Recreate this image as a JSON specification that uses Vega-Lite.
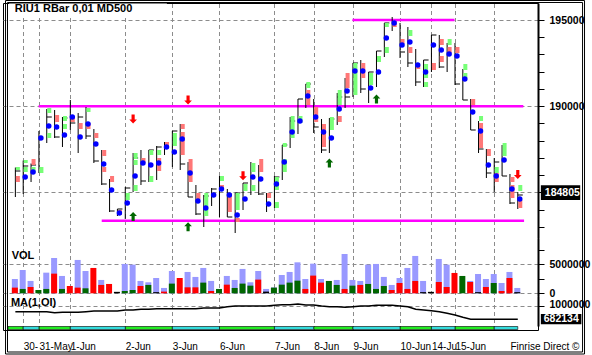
{
"$schema": "https://vega.github.io/schema/vega-lite/v6.json",
"width": 535,
"height": 327,
"autosize": {"type": "none"},
"padding": {"left": 3, "top": 3, "right": 54, "bottom": 25},
"background": "white",
"config": {"view": {"stroke": "black", "strokeWidth": 1}, "font": "Liberation Sans"},
"datasets": {
"bars": [
{"i":0,"h":186445,"l":184734,"t":186242,"d":null},
{"i":1,"h":186851,"l":184908,"t":186532,"d":185894},
{"i":2,"h":186677,"l":185604,"t":186590,"d":186184},
{"i":3,"h":188562,"l":186126,"t":null,"d":188156},
{"i":4,"h":189838,"l":187866,"t":189374,"d":188852},
{"i":5,"h":189780,"l":188156,"t":188214,"d":188794},
{"i":6,"h":189374,"l":187634,"t":189316,"d":188330},
{"i":7,"h":190360,"l":188620,"t":189026,"d":189374},
{"i":8,"h":189606,"l":187286,"t":189374,"d":188214},
{"i":9,"h":189954,"l":188098,"t":188272,"d":188968},
{"i":10,"h":188678,"l":186706,"t":186822,"d":187808},
{"i":11,"h":187460,"l":185430,"t":185488,"d":186648},
{"i":12,"h":185778,"l":183864,"t":183922,"d":185140},
{"i":13,"h":184038,"l":183632,"t":184038,"d":183806},
{"i":14,"h":185314,"l":183458,"t":185256,"d":184386},
{"i":15,"h":187286,"l":185024,"t":186996,"d":185952},
{"i":16,"h":187460,"l":185430,"t":185662,"d":186706},
{"i":17,"h":187460,"l":185604,"t":187460,"d":186590},
{"i":18,"h":187692,"l":185720,"t":187634,"d":186706},
{"i":19,"h":187924,"l":187170,"t":null,"d":187634},
{"i":20,"h":188562,"l":186474,"t":188562,"d":187344},
{"i":21,"h":188968,"l":186300,"t":186648,"d":188098},
{"i":22,"h":186764,"l":184734,"t":184734,"d":186126},
{"i":23,"h":185430,"l":183690,"t":183748,"d":184502},
{"i":24,"h":184850,"l":182994,"t":184792,"d":184096},
{"i":25,"h":185256,"l":184212,"t":185198,"d":184850},
{"i":26,"h":185952,"l":183574,"t":null,"d":185198},
{"i":27,"h":185198,"l":183574,"t":183574,"d":184850},
{"i":28,"h":184966,"l":182646,"t":184966,"d":183690},
{"i":29,"h":185546,"l":183980,"t":185546,"d":184618},
{"i":30,"h":186764,"l":184850,"t":null,"d":185894},
{"i":31,"h":186590,"l":184850,"t":184908,"d":185778},
{"i":32,"h":184966,"l":183864,"t":null,"d":184328},
{"i":33,"h":185952,"l":184096,"t":185894,"d":185488},
{"i":34,"h":187750,"l":185720,"t":187750,"d":186764},
{"i":35,"h":189374,"l":187576,"t":189142,"d":188504},
{"i":36,"h":190418,"l":188388,"t":190418,"d":189142},
{"i":37,"h":191288,"l":189896,"t":191288,"d":190592},
{"i":38,"h":190418,"l":188446,"t":188794,"d":189374},
{"i":39,"h":189258,"l":187286,"t":187460,"d":188504},
{"i":40,"h":189316,"l":187286,"t":189258,"d":188156},
{"i":41,"h":190766,"l":188910,"t":190534,"d":189838},
{"i":42,"h":191636,"l":189896,"t":190534,"d":190882},
{"i":43,"h":192506,"l":190534,"t":192506,"d":192042},
{"i":44,"h":192680,"l":190766,"t":190998,"d":192042},
{"i":45,"h":191984,"l":190186,"t":191984,"d":191056},
{"i":46,"h":193202,"l":191114,"t":193202,"d":191984},
{"i":47,"h":194826,"l":192854,"t":194826,"d":193956},
{"i":48,"h":195174,"l":194362,"t":null,"d":194826},
{"i":49,"h":194826,"l":192796,"t":193144,"d":193550},
{"i":50,"h":194594,"l":192274,"t":192506,"d":193724},
{"i":51,"h":193318,"l":191172,"t":191404,"d":192390},
{"i":52,"h":192680,"l":191114,"t":192680,"d":191984},
{"i":53,"h":194130,"l":191984,"t":194130,"d":193550},
{"i":54,"h":194130,"l":192216,"t":192274,"d":193260},
{"i":55,"h":193666,"l":191984,"t":null,"d":193028},
{"i":56,"h":193666,"l":191230,"t":191288,"d":192912},
{"i":57,"h":192158,"l":190360,"t":190360,"d":191578},
{"i":58,"h":190418,"l":188620,"t":188620,"d":189664},
{"i":59,"h":189142,"l":187286,"t":187518,"d":188562},
{"i":60,"h":187518,"l":185836,"t":186126,"d":186590},
{"i":61,"h":186996,"l":185024,"t":186764,"d":185952},
{"i":62,"h":187750,"l":185952,"t":185952,"d":186880},
{"i":63,"h":186068,"l":184328,"t":184386,"d":185198},
{"i":64,"h":185024,"l":184038,"t":184850,"d":184618}
],
"rects": [
{"i":0,"lo":185604,"hi":185952,"c":"s"},{"i":0,"lo":186300,"hi":186474,"c":"g"},
{"i":1,"lo":186184,"hi":186474,"c":"g"},{"i":1,"lo":186706,"hi":186880,"c":"g"},
{"i":2,"lo":186590,"hi":186938,"c":"s"},{"i":2,"lo":186184,"hi":186474,"c":"g"},
{"i":3,"lo":186126,"hi":186474,"c":"g"},
{"i":4,"lo":189606,"hi":189896,"c":"g"},{"i":4,"lo":188156,"hi":188446,"c":"g"},
{"i":5,"lo":189084,"hi":189490,"c":"s"},
{"i":6,"lo":189142,"hi":189432,"c":"g"},{"i":6,"lo":188678,"hi":188968,"c":"g"},
{"i":7,"lo":189084,"hi":189432,"c":"s"},
{"i":8,"lo":188678,"hi":189026,"c":"s"},
{"i":9,"lo":189664,"hi":189896,"c":"g"},{"i":9,"lo":188678,"hi":189026,"c":"s"},
{"i":10,"lo":188156,"hi":188446,"c":"s"},
{"i":11,"lo":187112,"hi":187460,"c":"s"},{"i":11,"lo":186184,"hi":186474,"c":"s"},
{"i":12,"lo":185604,"hi":185952,"c":"s"},
{"i":13,"lo":183690,"hi":183980,"c":"s"},
{"i":14,"lo":184560,"hi":184966,"c":"g"},
{"i":15,"lo":186938,"hi":187286,"c":"g"},{"i":15,"lo":186590,"hi":186880,"c":"g"},{"i":15,"lo":185082,"hi":185430,"c":"g"},
{"i":16,"lo":186706,"hi":186996,"c":"s"},
{"i":17,"lo":187170,"hi":187460,"c":"g"},{"i":17,"lo":185604,"hi":185952,"c":"g"},
{"i":18,"lo":187170,"hi":187460,"c":"g"},{"i":18,"lo":186242,"hi":186996,"c":"s"},
{"i":19,"lo":187692,"hi":187924,"c":"s"},
{"i":20,"lo":187692,"hi":188446,"c":"g"},
{"i":21,"lo":188678,"hi":188968,"c":"s"},{"i":21,"lo":187170,"hi":188504,"c":"s"},
{"i":22,"lo":185604,"hi":186938,"c":"s"},
{"i":23,"lo":184618,"hi":184966,"c":"s"},
{"i":24,"lo":183632,"hi":184966,"c":"g"},
{"i":26,"lo":185662,"hi":185952,"c":"g"},{"i":26,"lo":185140,"hi":185430,"c":"s"},
{"i":27,"lo":183864,"hi":184966,"c":"s"},
{"i":28,"lo":183980,"hi":184966,"c":"g"},{"i":28,"lo":183284,"hi":183516,"c":"s"},
{"i":29,"lo":185082,"hi":185488,"c":"g"},
{"i":30,"lo":186184,"hi":186706,"c":"g"},{"i":30,"lo":185082,"hi":185430,"c":"g"},
{"i":31,"lo":186184,"hi":186938,"c":"s"},
{"i":32,"lo":184676,"hi":184966,"c":"s"},
{"i":33,"lo":185140,"hi":185894,"c":"g"},{"i":33,"lo":184096,"hi":184444,"c":"g"},
{"i":34,"lo":187634,"hi":187866,"c":"g"},{"i":34,"lo":186184,"hi":186938,"c":"g"},
{"i":35,"lo":188156,"hi":189432,"c":"g"},
{"i":36,"lo":189026,"hi":189432,"c":"g"},
{"i":37,"lo":191056,"hi":191404,"c":"g"},{"i":37,"lo":190070,"hi":190940,"c":"s"},
{"i":38,"lo":189084,"hi":189954,"c":"s"},
{"i":39,"lo":187634,"hi":188968,"c":"s"},
{"i":40,"lo":188620,"hi":189374,"c":"g"},
{"i":41,"lo":190070,"hi":190940,"c":"g"},{"i":41,"lo":189084,"hi":189432,"c":"s"},
{"i":42,"lo":191056,"hi":191926,"c":"s"},
{"i":43,"lo":190650,"hi":192506,"c":"g"},
{"i":44,"lo":191636,"hi":192506,"c":"s"},
{"i":45,"lo":191230,"hi":191926,"c":"g"},
{"i":46,"lo":192564,"hi":192912,"c":"g"},
{"i":47,"lo":194594,"hi":194826,"c":"g"},{"i":47,"lo":193086,"hi":193434,"c":"g"},
{"i":48,"lo":194594,"hi":194942,"c":"s"},
{"i":49,"lo":193608,"hi":193898,"c":"s"},
{"i":50,"lo":194072,"hi":194420,"c":"g"},{"i":50,"lo":193086,"hi":193434,"c":"s"},
{"i":51,"lo":192158,"hi":192448,"c":"s"},
{"i":52,"lo":191636,"hi":192448,"c":"g"},{"i":52,"lo":191114,"hi":191404,"c":"g"},
{"i":53,"lo":192100,"hi":192506,"c":"s"},
{"i":54,"lo":193550,"hi":193898,"c":"s"},{"i":54,"lo":192564,"hi":192912,"c":"s"},
{"i":55,"lo":193550,"hi":193898,"c":"g"},{"i":55,"lo":193086,"hi":193434,"c":"s"},
{"i":56,"lo":193086,"hi":193434,"c":"s"},
{"i":57,"lo":192100,"hi":192448,"c":"g"},{"i":57,"lo":191636,"hi":191926,"c":"g"},
{"i":58,"lo":190070,"hi":190418,"c":"s"},
{"i":59,"lo":189142,"hi":189432,"c":"g"},{"i":59,"lo":187576,"hi":189026,"c":"s"},
{"i":60,"lo":187112,"hi":187518,"c":"s"},
{"i":61,"lo":186126,"hi":186474,"c":"g"},{"i":61,"lo":185604,"hi":186126,"c":"s"},
{"i":62,"lo":187112,"hi":187866,"c":"g"},
{"i":63,"lo":185604,"hi":185894,"c":"s"},{"i":63,"lo":184676,"hi":185430,"c":"s"},
{"i":64,"lo":185082,"hi":185430,"c":"g"},{"i":64,"lo":184096,"hi":184560,"c":"s"}
],
"levels": [
{"p":195000,"s":42.94,"e":55.94},
{"p":190000,"s":2.97,"e":64.7},
{"p":183359,"s":11.0,"e":64.8}
],
"arrows": [
{"i":15,"p":189258,"dir":"down"},{"i":22,"p":190360,"dir":"down"},{"i":29,"p":185962,"dir":"down"},{"i":64,"p":186039,"dir":"down"},
{"i":15,"p":183603,"dir":"up"},{"i":22,"p":183011,"dir":"up"},{"i":40,"p":186706,"dir":"up"},{"i":46,"p":190418,"dir":"up"}
],
"last": [{"v":184805}],
"lastoi": [{"v":682134}],
"frame": [{"part":"border"}],
"labels": [{"panel":"title","t":"RIU1 RBar 0,01 MD500"},{"panel":"vol","t":"VOL"},{"panel":"ma","t":"MA(1,OI)"}],
"vol": [
{"i":0,"lav":2470000,"col":980000,"c":"r"},
{"i":1,"lav":4020000,"col":750000,"c":"g"},
{"i":2,"lav":2130000,"col":1090000,"c":"r"},
{"i":3,"lav":0,"col":570000,"c":"g"},
{"i":4,"lav":3560000,"col":750000,"c":"g"},
{"i":5,"lav":6090000,"col":3390000,"c":"r"},
{"i":6,"lav":2990000,"col":750000,"c":"g"},
{"i":7,"lav":0,"col":1260000,"c":"r"},
{"i":8,"lav":5750000,"col":980000,"c":"r"},
{"i":9,"lav":3850000,"col":860000,"c":"g"},
{"i":10,"lav":0,"col":4370000,"c":"r"},
{"i":11,"lav":2300000,"col":1440000,"c":"r"},
{"i":12,"lav":0,"col":1610000,"c":"r"},
{"i":13,"lav":0,"col":250000,"c":"k"},
{"i":14,"lav":5060000,"col":400000,"c":"g"},
{"i":15,"lav":4940000,"col":570000,"c":"g"},
{"i":16,"lav":2130000,"col":1260000,"c":"r"},
{"i":17,"lav":1900000,"col":1440000,"c":"g"},
{"i":18,"lav":2640000,"col":200000,"c":"k"},
{"i":19,"lav":920000,"col":290000,"c":"r"},
{"i":20,"lav":3850000,"col":1670000,"c":"g"},
{"i":21,"lav":0,"col":2640000,"c":"r"},
{"i":22,"lav":3680000,"col":1030000,"c":"r"},
{"i":23,"lav":2820000,"col":1030000,"c":"r"},
{"i":24,"lav":4370000,"col":1840000,"c":"g"},
{"i":25,"lav":2130000,"col":400000,"c":"r"},
{"i":26,"lav":0,"col":750000,"c":"g"},
{"i":27,"lav":2990000,"col":1490000,"c":"r"},
{"i":28,"lav":2300000,"col":920000,"c":"g"},
{"i":29,"lav":4200000,"col":1670000,"c":"g"},
{"i":30,"lav":1900000,"col":1320000,"c":"g"},
{"i":31,"lav":3850000,"col":2360000,"c":"r"},
{"i":32,"lav":750000,"col":290000,"c":"k"},
{"i":33,"lav":1000000,"col":980000,"c":"g"},
{"i":34,"lav":3160000,"col":1490000,"c":"g"},
{"i":35,"lav":3680000,"col":1840000,"c":"g"},
{"i":36,"lav":5340000,"col":2180000,"c":"g"},
{"i":37,"lav":2470000,"col":750000,"c":"r"},
{"i":38,"lav":5110000,"col":3050000,"c":"r"},
{"i":39,"lav":2470000,"col":1840000,"c":"r"},
{"i":40,"lav":0,"col":2130000,"c":"g"},
{"i":41,"lav":2300000,"col":1440000,"c":"g"},
{"i":42,"lav":6780000,"col":750000,"c":"r"},
{"i":43,"lav":2300000,"col":1320000,"c":"g"},
{"i":44,"lav":2130000,"col":1440000,"c":"r"},
{"i":45,"lav":4940000,"col":1610000,"c":"g"},
{"i":46,"lav":5060000,"col":750000,"c":"g"},
{"i":47,"lav":2820000,"col":1260000,"c":"g"},
{"i":48,"lav":1440000,"col":570000,"c":"r"},
{"i":49,"lav":2640000,"col":1780000,"c":"r"},
{"i":50,"lav":4370000,"col":750000,"c":"r"},
{"i":51,"lav":6440000,"col":2130000,"c":"r"},
{"i":52,"lav":2130000,"col":200000,"c":"k"},
{"i":53,"lav":0,"col":250000,"c":"k"},
{"i":54,"lav":5920000,"col":1950000,"c":"r"},
{"i":55,"lav":4940000,"col":1090000,"c":"r"},
{"i":56,"lav":0,"col":3510000,"c":"r"},
{"i":57,"lav":0,"col":2990000,"c":"g"},
{"i":58,"lav":2130000,"col":1950000,"c":"r"},
{"i":59,"lav":3330000,"col":200000,"c":"k"},
{"i":60,"lav":2470000,"col":1090000,"c":"r"},
{"i":61,"lav":3330000,"col":1780000,"c":"g"},
{"i":62,"lav":1780000,"col":400000,"c":"r"},
{"i":63,"lav":3680000,"col":2640000,"c":"r"},
{"i":64,"lav":920000,"col":200000,"c":"k"}
],
"oi": [
{"i":0,"v":862740},{"i":1,"v":862740},{"i":2,"v":862740},{"i":3,"v":862740},{"i":4,"v":862740},
{"i":5,"v":838660},{"i":6,"v":848290},{"i":7,"v":848290},{"i":8,"v":848290},{"i":9,"v":862740},
{"i":10,"v":879600},{"i":11,"v":879600},{"i":12,"v":879600},{"i":13,"v":879600},{"i":14,"v":903680},
{"i":15,"v":903680},{"i":16,"v":920540},{"i":17,"v":920540},{"i":18,"v":934990},{"i":19,"v":934990},
{"i":20,"v":934990},{"i":21,"v":934990},{"i":22,"v":934990},{"i":23,"v":934990},{"i":24,"v":951840},
{"i":25,"v":951840},{"i":26,"v":951840},{"i":27,"v":983150},{"i":28,"v":1000000},{"i":29,"v":1000000},
{"i":30,"v":1000000},{"i":31,"v":1000000},{"i":32,"v":1000000},{"i":33,"v":1016860},{"i":34,"v":1031310},
{"i":35,"v":1031310},{"i":36,"v":1048170},{"i":37,"v":1024090},{"i":38,"v":1024090},{"i":39,"v":1000000},
{"i":40,"v":983150},{"i":41,"v":983150},{"i":42,"v":968700},{"i":43,"v":983150},{"i":44,"v":1000000},
{"i":45,"v":1000000},{"i":46,"v":1016860},{"i":47,"v":1016860},{"i":48,"v":1016860},{"i":49,"v":1000000},
{"i":50,"v":983150},{"i":51,"v":920540},{"i":52,"v":903680},{"i":53,"v":886820},{"i":54,"v":862740},
{"i":55,"v":824210},{"i":56,"v":783270},{"i":57,"v":727890},{"i":58,"v":682134},{"i":59,"v":682134},
{"i":60,"v":682134},{"i":61,"v":682134},{"i":62,"v":682134},{"i":63,"v":682134},{"i":64,"v":682134}
],
"strip": [
{"s":-0.9375,"e":1,"c":"g"},{"s":1,"e":3,"c":"c"},{"s":3,"e":7,"c":"g"},{"s":7,"e":14,"c":"c"},
{"s":14,"e":20,"c":"g"},{"s":20,"e":26,"c":"c"},{"s":26,"e":33,"c":"g"},{"s":33,"e":38,"c":"c"},
{"s":38,"e":43,"c":"g"},{"s":43,"e":49,"c":"c"},{"s":49,"e":53,"c":"g"},{"s":53,"e":56,"c":"c"},
{"s":56,"e":61,"c":"g"},{"s":61,"e":64,"c":"c"}
]
},
"resolve": {"scale": {"y": "independent"}},
"layer": [
 {"data":{"name":"strip"},"transform":[{"filter":"datum.c === 'g'"}],"mark":{"type":"rect","color":"#22ee22","stroke":"black","strokeWidth":0.6},
  "encoding":{"x":{"field":"s","type":"quantitative","scale":{"domain":[-0.9375,65.9375],"nice":false,"zero":false},
   "axis":{"orient":"bottom","values":[1,3,7,14,20,26,33,38,43,49,53,56,61,63],
    "labelExpr":"datum.value === 1 ? '30-' : datum.value === 3 ? '31-May' : datum.value === 7 ? '1-Jun' : datum.value === 14 ? '2-Jun' : datum.value === 20 ? '3-Jun' : datum.value === 26 ? '6-Jun' : datum.value === 33 ? '7-Jun' : datum.value === 38 ? '8-Jun' : datum.value === 43 ? '9-Jun' : datum.value === 49 ? '10-Jun' : datum.value === 53 ? '14-Ju' : datum.value === 56 ? '15-Jun' : datum.value === 63 ? 'Finrise Direct ©' : ''",
    "grid":true,"gridColor":"#8c8c8c","gridDash":[4,3],
    "gridOpacity":{"condition":{"test":"datum.value === 63","value":0},"value":1},
    "ticks":false,"domain":false,"labelAlign":"left","labelBaseline":"alphabetic","labelPadding":19,
    "labelFontSize":10,"labelColor":"black","labelOverlap":false,"labelFlush":false,"title":null}},
  "x2":{"field":"e"},
  "y":{"datum":0,"type":"quantitative","scale":{"domain":[0,108.8333],"range":[326.5,0],"nice":false,"zero":false},"axis":null},"y2":{"datum":1}}},
 {"data":{"name":"strip"},"transform":[{"filter":"datum.c === 'c'"}],"mark":{"type":"rect","color":"#33dddd","stroke":"black","strokeWidth":0.6},
  "encoding":{"x":{"field":"s","type":"quantitative","scale":{"domain":[-0.9375,65.9375],"nice":false,"zero":false},"axis":{"title":null}},
  "x2":{"field":"e"},
  "y":{"datum":0,"type":"quantitative","scale":{"domain":[0,108.8333],"range":[326.5,0],"nice":false,"zero":false},"axis":null},"y2":{"datum":1}}},
 {"data":{"name":"frame"},"mark":{"type":"rect","fill":"transparent","stroke":"black","strokeWidth":1},
  "encoding":{"x":{"datum":-1.25,"type":"quantitative","scale":{"domain":[-0.9375,65.9375],"nice":false,"zero":false},"axis":{"title":null}},"x2":{"datum":72.5},
  "y":{"datum":-8.167,"type":"quantitative","scale":{"domain":[0,108.8333],"range":[326.5,0],"nice":false,"zero":false},"axis":null},"y2":{"datum":109.667}}},
 {"data":{"name":"frame"},"mark":{"type":"rect","fill":"transparent","stroke":"black","strokeWidth":1},
  "encoding":{"x":{"datum":-1.0,"type":"quantitative","scale":{"domain":[-0.9375,65.9375],"nice":false,"zero":false},"axis":{"title":null}},"x2":{"datum":72.25},
  "y":{"datum":-7.5,"type":"quantitative","scale":{"domain":[0,108.8333],"range":[326.5,0],"nice":false,"zero":false},"axis":null},"y2":{"datum":109.0}}},
 {"data":{"name":"frame"},"mark":{"type":"rect","color":"white"},
  "encoding":{"x":{"datum":-0.8,"type":"quantitative","scale":{"domain":[-0.9375,65.9375],"nice":false,"zero":false},"axis":{"title":null}},"x2":{"datum":19.3},
  "y":{"datum":195290,"type":"quantitative","scale":{"domain":[182356,195986],"range":[235,0],"nice":false,"zero":false},"axis":null},"y2":{"datum":195960}}},
 {"data":{"name":"levels"},"mark":{"type":"rule","color":"#ff00ff","strokeWidth":2.5},
  "encoding":{"x":{"field":"s","type":"quantitative","scale":{"domain":[-0.9375,65.9375],"nice":false,"zero":false},"axis":{"title":null}},"x2":{"field":"e"},
  "y":{"field":"p","type":"quantitative","scale":{"domain":[182356,195986],"range":[235,0],"nice":false,"zero":false},
   "axis":{"orient":"right","values":[183000,184000,185000,186000,187000,188000,189000,190000,191000,192000,193000,194000,195000],"format":"d",
    "labelExpr":"datum.value % 5000 === 0 && datum.value !== 185000 ? datum.label : ''",
    "grid":true,"gridColor":"#8c8c8c","gridDash":[4,3],
    "gridOpacity":{"condition":{"test":"datum.value % 5000 === 0","value":1},"value":0},
    "tickColor":"black","tickSize":6,"domainColor":"black","domainWidth":2,
    "labelColor":"black","labelFontSize":10.5,"labelFontWeight":"bold","labelPadding":5,"title":null}}}},
 {"data":{"name":"bars"},"mark":{"type":"rule","color":"black","strokeWidth":1},
  "encoding":{"x":{"field":"i","type":"quantitative","scale":{"domain":[-0.9375,65.9375],"nice":false,"zero":false},"axis":{"title":null}},
  "y":{"field":"l","type":"quantitative","scale":{"domain":[182356,195986],"range":[235,0],"nice":false,"zero":false},"axis":null},"y2":{"field":"h"}}},
 {"data":{"name":"bars"},"transform":[{"filter":"isValid(datum.t)"}],"mark":{"type":"tick","orient":"horizontal","color":"black","size":5,"thickness":1,"xOffset":2.5,"opacity":1},
  "encoding":{"x":{"field":"i","type":"quantitative","scale":{"domain":[-0.9375,65.9375],"nice":false,"zero":false},"axis":{"title":null}},
  "y":{"field":"t","type":"quantitative","scale":{"domain":[182356,195986],"range":[235,0],"nice":false,"zero":false},"axis":null}}},
 {"data":{"name":"rects"},"transform":[{"filter":"datum.c === 'g'"}],"mark":{"type":"bar","color":"#77ff77","width":4,"xOffset":2.5},
  "encoding":{"x":{"field":"i","type":"quantitative","scale":{"domain":[-0.9375,65.9375],"nice":false,"zero":false},"axis":{"title":null}},
  "y":{"field":"lo","type":"quantitative","scale":{"domain":[182356,195986],"range":[235,0],"nice":false,"zero":false},"axis":null},"y2":{"field":"hi"}}},
 {"data":{"name":"rects"},"transform":[{"filter":"datum.c === 's'"}],"mark":{"type":"bar","color":"#ff7777","width":4,"xOffset":2.5},
  "encoding":{"x":{"field":"i","type":"quantitative","scale":{"domain":[-0.9375,65.9375],"nice":false,"zero":false},"axis":{"title":null}},
  "y":{"field":"lo","type":"quantitative","scale":{"domain":[182356,195986],"range":[235,0],"nice":false,"zero":false},"axis":null},"y2":{"field":"hi"}}},
 {"data":{"name":"bars"},"transform":[{"filter":"isValid(datum.d)"}],"mark":{"type":"circle","color":"#0000ff","size":30,"opacity":1,"xOffset":2},
  "encoding":{"x":{"field":"i","type":"quantitative","scale":{"domain":[-0.9375,65.9375],"nice":false,"zero":false},"axis":{"title":null}},
  "y":{"field":"d","type":"quantitative","scale":{"domain":[182356,195986],"range":[235,0],"nice":false,"zero":false},"axis":null}}},
 {"data":{"name":"arrows"},"transform":[{"filter":"datum.dir === 'down'"}],"mark":{"type":"point","shape":"M-0.35,-1L0.35,-1L0.35,0.1L0.85,0.1L0,1L-0.85,0.1L-0.35,0.1Z","filled":true,"color":"#ff0000","size":81,"opacity":1},
  "encoding":{"x":{"field":"i","type":"quantitative","scale":{"domain":[-0.9375,65.9375],"nice":false,"zero":false},"axis":{"title":null}},
  "y":{"field":"p","type":"quantitative","scale":{"domain":[182356,195986],"range":[235,0],"nice":false,"zero":false},"axis":null}}},
 {"data":{"name":"arrows"},"transform":[{"filter":"datum.dir === 'up'"}],"mark":{"type":"point","shape":"M-0.35,1L0.35,1L0.35,-0.1L0.85,-0.1L0,-1L-0.85,-0.1L-0.35,-0.1Z","filled":true,"color":"#006600","size":81,"opacity":1},
  "encoding":{"x":{"field":"i","type":"quantitative","scale":{"domain":[-0.9375,65.9375],"nice":false,"zero":false},"axis":{"title":null}},
  "y":{"field":"p","type":"quantitative","scale":{"domain":[182356,195986],"range":[235,0],"nice":false,"zero":false},"axis":null}}},
 {"data":{"name":"labels"},"transform":[{"filter":"datum.panel === 'title'"}],"mark":{"type":"text","color":"black","fontWeight":"bold","fontSize":11,"align":"left","baseline":"alphabetic"},
  "encoding":{"x":{"datum":-0.0625,"type":"quantitative","scale":{"domain":[-0.9375,65.9375],"nice":false,"zero":false},"axis":{"title":null}},
  "y":{"datum":195447,"type":"quantitative","scale":{"domain":[182356,195986],"range":[235,0],"nice":false,"zero":false},"axis":null},
  "text":{"field":"t","type":"nominal"}}},
 {"data":{"name":"last"},"mark":{"type":"rect","color":"black"},
  "encoding":{"x":{"datum":66.94,"type":"quantitative","scale":{"domain":[-0.9375,65.9375],"nice":false,"zero":false},"axis":{"title":null}},"x2":{"datum":71.95},
  "y":{"datum":185413,"type":"quantitative","scale":{"domain":[182356,195986],"range":[235,0],"nice":false,"zero":false},"axis":null},"y2":{"datum":184560}}},
 {"data":{"name":"last"},"mark":{"type":"text","color":"white","fontWeight":"bold","fontSize":10.5,"align":"left","baseline":"middle","dy":-3},
  "encoding":{"x":{"datum":67.44,"type":"quantitative","scale":{"domain":[-0.9375,65.9375],"nice":false,"zero":false},"axis":{"title":null}},
  "y":{"field":"v","type":"quantitative","scale":{"domain":[182356,195986],"range":[235,0],"nice":false,"zero":false},"axis":null},
  "text":{"field":"v","type":"quantitative","format":"d"}}},
 {"data":{"name":"vol"},"transform":[{"filter":"datum.lav > 0"}],"mark":{"type":"bar","color":"#9999ff","width":6,"xOffset":-0.5},
  "encoding":{"x":{"field":"i","type":"quantitative","scale":{"domain":[-0.9375,65.9375],"nice":false,"zero":false},"axis":{"title":null}},
  "y":{"field":"lav","type":"quantitative","scale":{"domain":[-465517,9534483],"range":[293,235],"nice":false,"zero":false},
   "axis":{"orient":"right","values":[0,2500000,5000000,7500000],"format":"d",
    "labelExpr":"datum.value === 0 || datum.value === 5000000 ? datum.label : ''",
    "grid":true,"gridColor":"#8c8c8c","gridDash":[4,3],
    "gridOpacity":{"condition":{"test":"datum.value === 0 || datum.value === 5000000","value":1},"value":0},
    "tickColor":"black","tickSize":6,"domainColor":"black","domainWidth":2,
    "labelColor":"black","labelFontSize":10.5,"labelFontWeight":"bold","labelPadding":5,"title":null}},
  "y2":{"datum":0}}},
 {"data":{"name":"vol"},"transform":[{"filter":"datum.c === 'r'"}],"mark":{"type":"bar","color":"#ff0000","width":6,"xOffset":-0.5},
  "encoding":{"x":{"field":"i","type":"quantitative","scale":{"domain":[-0.9375,65.9375],"nice":false,"zero":false},"axis":{"title":null}},
  "y":{"field":"col","type":"quantitative","scale":{"domain":[-465517,9534483],"range":[293,235],"nice":false,"zero":false},"axis":null},"y2":{"datum":0}}},
 {"data":{"name":"vol"},"transform":[{"filter":"datum.c === 'g'"}],"mark":{"type":"bar","color":"#006600","width":6,"xOffset":-0.5},
  "encoding":{"x":{"field":"i","type":"quantitative","scale":{"domain":[-0.9375,65.9375],"nice":false,"zero":false},"axis":{"title":null}},
  "y":{"field":"col","type":"quantitative","scale":{"domain":[-465517,9534483],"range":[293,235],"nice":false,"zero":false},"axis":null},"y2":{"datum":0}}},
 {"data":{"name":"vol"},"transform":[{"filter":"datum.c === 'k'"}],"mark":{"type":"bar","color":"#000000","width":6,"xOffset":-0.5},
  "encoding":{"x":{"field":"i","type":"quantitative","scale":{"domain":[-0.9375,65.9375],"nice":false,"zero":false},"axis":{"title":null}},
  "y":{"field":"col","type":"quantitative","scale":{"domain":[-465517,9534483],"range":[293,235],"nice":false,"zero":false},"axis":null},"y2":{"datum":0}}},
 {"data":{"name":"labels"},"transform":[{"filter":"datum.panel === 'vol'"}],"mark":{"type":"text","color":"black","fontWeight":"bold","fontSize":11,"align":"left","baseline":"alphabetic"},
  "encoding":{"x":{"datum":-0.475,"type":"quantitative","scale":{"domain":[-0.9375,65.9375],"nice":false,"zero":false},"axis":{"title":null}},
  "y":{"datum":5860000,"type":"quantitative","scale":{"domain":[-465517,9534483],"range":[293,235],"nice":false,"zero":false},"axis":null},
  "text":{"field":"t","type":"nominal"}}},
 {"data":{"name":"oi"},"mark":{"type":"line","color":"black","strokeWidth":1.5},
  "encoding":{"x":{"field":"i","type":"quantitative","scale":{"domain":[-0.9375,65.9375],"nice":false,"zero":false},"axis":{"title":null}},
  "y":{"field":"v","type":"quantitative","scale":{"domain":[518383,1240813],"range":[323,293],"nice":false,"zero":false},
   "axis":{"orient":"right","values":[1000000],"format":"d","grid":true,"gridColor":"#8c8c8c","gridDash":[4,3],
    "tickColor":"black","tickSize":6,"domainColor":"black","domainWidth":2,
    "labelColor":"black","labelFontSize":10.5,"labelFontWeight":"bold","labelPadding":5,"labelOffset":-2,"title":null}}}},
 {"data":{"name":"labels"},"transform":[{"filter":"datum.panel === 'ma'"}],"mark":{"type":"text","color":"black","fontWeight":"bold","fontSize":11,"align":"left","baseline":"alphabetic"},
  "encoding":{"x":{"datum":-0.5625,"type":"quantitative","scale":{"domain":[-0.9375,65.9375],"nice":false,"zero":false},"axis":{"title":null}},
  "y":{"datum":1000000,"type":"quantitative","scale":{"domain":[518383,1240813],"range":[323,293],"nice":false,"zero":false},"axis":null},
  "text":{"field":"t","type":"nominal"}}},
 {"data":{"name":"lastoi"},"mark":{"type":"rect","color":"black"},
  "encoding":{"x":{"datum":66.94,"type":"quantitative","scale":{"domain":[-0.9375,65.9375],"nice":false,"zero":false},"axis":{"title":null}},"x2":{"datum":72.1},
  "y":{"datum":807355,"type":"quantitative","scale":{"domain":[518383,1240813],"range":[323,293],"nice":false,"zero":false},"axis":null},"y2":{"datum":559321}}},
 {"data":{"name":"lastoi"},"mark":{"type":"text","color":"white","fontWeight":"bold","fontSize":10.5,"align":"left","baseline":"middle"},
  "encoding":{"x":{"datum":67.3,"type":"quantitative","scale":{"domain":[-0.9375,65.9375],"nice":false,"zero":false},"axis":{"title":null}},
  "y":{"field":"v","type":"quantitative","scale":{"domain":[518383,1240813],"range":[323,293],"nice":false,"zero":false},"axis":null},
  "text":{"field":"v","type":"quantitative","format":"d"}}}
]
}
